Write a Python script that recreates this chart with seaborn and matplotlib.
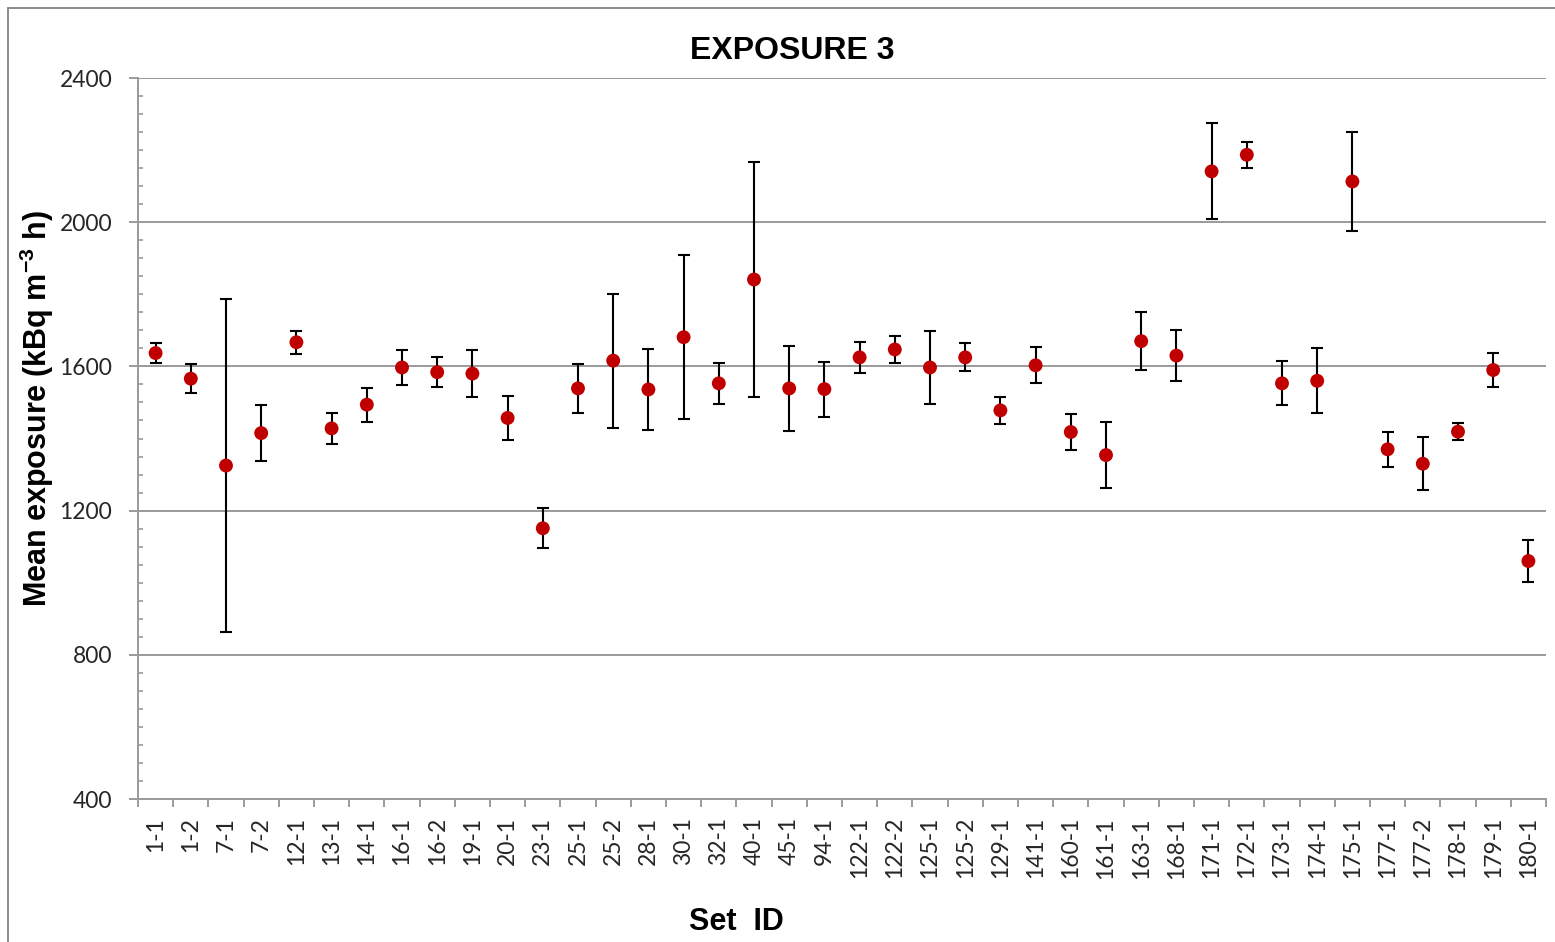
import numpy as np
import pandas as pd
import matplotlib
matplotlib.use("Agg")
import matplotlib.pyplot as plt
from matplotlib.patches import Rectangle
from matplotlib.ticker import MultipleLocator, FixedLocator
import seaborn as sns

# Mean exposure per detector set, with its uncertainty
set_ids = ['1-1', '1-2', '7-1', '7-2', '12-1', '13-1', '14-1', '16-1', '16-2', '19-1',
           '20-1', '23-1', '25-1', '25-2', '28-1', '30-1', '32-1', '40-1', '45-1', '94-1',
           '122-1', '122-2', '125-1', '125-2', '129-1', '141-1', '160-1', '161-1', '163-1', '168-1',
           '171-1', '172-1', '173-1', '174-1', '175-1', '177-1', '177-2', '178-1', '179-1', '180-1']
mean_exposure = [1637, 1566, 1325, 1415, 1667, 1428, 1494, 1597, 1584, 1580,
                 1457, 1151, 1539, 1616, 1536, 1681, 1553, 1841, 1539, 1537,
                 1625, 1647, 1597, 1625, 1478, 1603, 1418, 1354, 1670, 1630,
                 2141, 2187, 1553, 1560, 2113, 1370, 1330, 1419, 1590, 1060]
uncertainty = [27, 41, 463, 77, 32, 44, 47, 49, 42, 66,
               60, 56, 67, 186, 113, 228, 56, 327, 117, 76,
               43, 37, 102, 39, 37, 50, 50, 91, 80, 70,
               133, 36, 61, 90, 138, 49, 74, 24, 46, 59]
y_ticks = [400, 800, 1200, 1600, 2000, 2400]

df = pd.DataFrame({"set_id": pd.Categorical(set_ids, categories=set_ids, ordered=True),
                   "mean": mean_exposure, "err": uncertainty})

sns.set_theme(style="white")
plt.rcParams['font.family'] = ['Lato', 'DejaVu Sans']
plt.rcParams['mathtext.fontset'] = 'custom'
plt.rcParams['mathtext.rm'] = 'Liberation Sans'
plt.rcParams['mathtext.bf'] = 'Liberation Sans:bold'

W, H = 1555, 942
fig = plt.figure(figsize=(W / 100, H / 100), dpi=100)
ax = fig.add_axes([138 / W, (H - 799) / H, (1546 - 138) / W, (799 - 78) / H])

grid_c = '#9a9a9a'
pos = np.arange(len(set_ids))

# Error bars first, markers on top
ax.errorbar(pos, df["mean"], yerr=df["err"], fmt='none', ecolor='black',
            elinewidth=1.5, capsize=4.3, capthick=1.5, zorder=2)
sns.scatterplot(data=df, x="set_id", y="mean", color='#C00000', s=100,
                edgecolor='none', linewidth=0, ax=ax, zorder=3, legend=False)

ax.set_xlim(-0.5, len(set_ids) - 0.5)
ax.set_ylim(400, 2400)

# y axis: major ticks with gridlines, minor ticks every 50 inside
ax.yaxis.set_major_locator(FixedLocator(y_ticks))
ax.yaxis.set_minor_locator(MultipleLocator(50))
ax.grid(axis='y', which='major', color=grid_c, linewidth=1.4, zorder=0)
ax.grid(axis='x', visible=False)
ax.set_axisbelow(True)
ax.tick_params(axis='y', which='major', direction='out', length=6.5, width=1.4,
               color=grid_c, labelsize=16.5, pad=12, left=True)
ax.tick_params(axis='y', which='minor', direction='in', length=3.6, width=1.2,
               color=grid_c, left=True)

# x axis: labels at category centres, tick marks between categories
ax.set_xticks(pos)
ax.set_xticklabels(set_ids, rotation=90, va='top', ha='center')
ax.xaxis.set_minor_locator(FixedLocator(np.arange(-0.5, len(set_ids), 1.0)))
ax.tick_params(axis='x', which='major', length=0, labelsize=16.5, pad=13, bottom=True)
ax.tick_params(axis='x', which='minor', direction='out', length=5.8, width=1.4,
               color=grid_c, bottom=True)

for side in ['top', 'right']:
    ax.spines[side].set_visible(False)
for side in ['left', 'bottom']:
    ax.spines[side].set_color(grid_c)
    ax.spines[side].set_linewidth(1.4)

title_font = dict(family='Liberation Sans', weight='bold', size=22)
ax.set_title('EXPOSURE 3', x=(792 - 138) / 1408, y=(799 - 51) / 721, pad=0,
             va='center', ha='center', fontdict=dict(title_font, size=23), color='black')
ax.set_xlabel('Set  ID', fontdict=title_font, color='black', va='center')
ax.xaxis.set_label_coords((736 - 138) / 1408, (799 - 922) / 721)
ax.set_ylabel(r'Mean exposure (kBq m$^{\mathbf{-3}}$ h)', fontdict=title_font,
              color='black', va='center')
ax.yaxis.set_label_coords((37 - 138) / 1408, (799 - 408) / 721)

# Chart border
fig.add_artist(Rectangle((8 / W, -0.1), 1.2, (H - 8) / H + 0.1, transform=fig.transFigure,
                         fill=False, edgecolor='#8c8c8c', linewidth=1.4))

fig.savefig('out.png', dpi=100, facecolor='white')
